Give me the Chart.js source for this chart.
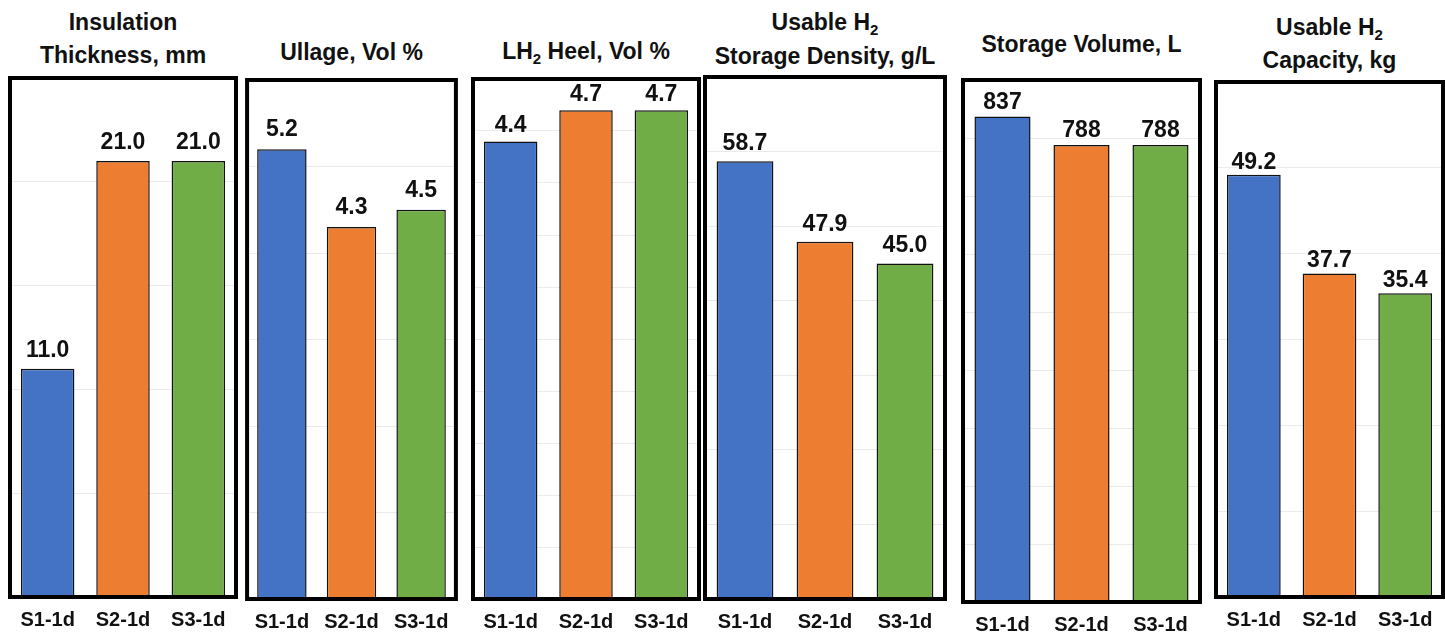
<!DOCTYPE html>
<html>
<head>
<meta charset="utf-8">
<script src="https://cdn.jsdelivr.net/npm/chart.js@4"></script>
<style>
  html, body { margin: 0; padding: 0; background: #fff; }
  body { width: 1445px; height: 632px; position: relative; overflow: hidden; font-family: "Liberation Sans", Arial, sans-serif; }
  .title { position: absolute; text-align: center; font-weight: bold; font-size: 23px; line-height: 26px; color: #111; white-space: nowrap; }
  .title sub { font-size: 15px; line-height: 0; vertical-align: -5px; }
  canvas { position: absolute; }
</style>
</head>
<body>
<script>
// scenarios on the x axis
const scenarios = ['S1-1d', 'S2-1d', 'S3-1d'];

// one value per scenario for each panel
const insulationMm = [11.0, 21.0, 21.0];
const ullagePct = [5.2, 4.3, 4.5];
const heelPct = [4.4, 4.7, 4.7];
const densityGL = [58.7, 47.9, 45.0];
const volumeL = [837, 788, 788];
const capacityKg = [49.2, 37.7, 35.4];

// y axis range and gridline step per panel
const axisMax = [25, 6, 5, 70, 900, 60];
const axisStep = [5, 1, 0.5, 10, 100, 10];
const decimals = [1, 1, 1, 1, 0, 1];

const barColors = ['#4472C4', '#ED7D31', '#70AD47'];

const titles = [
  ['Insulation', 'Thickness, mm'],
  ['Ullage, Vol %'],
  ['LH<sub>2</sub> Heel, Vol %'],
  ['Usable H<sub>2</sub>', 'Storage Density, g/L'],
  ['Storage Volume, L'],
  ['Usable H<sub>2</sub>', 'Capacity, kg']
];
const series = [insulationMm, ullagePct, heelPct, densityGL, volumeL, capacityKg];

// panel frames: left, top, right, bottom
const frames = [
  [10, 78, 236, 597],
  [247, 80, 456, 599],
  [473, 79, 699, 599],
  [705, 77, 945, 599],
  [963, 80, 1200, 602],
  [1216, 82, 1443, 597]
];
// vertical centre of each title line
const titleY = [[22, 55], [52], [51], [22, 56], [44], [27, 60]];
// gap between value label baseline and bar top
const labelGap = [12, 13, 9, 11, 8, 6];

const frameBox = {
  id: 'frameBox',
  afterDraw(chart) {
    const a = chart.chartArea;
    const ctx = chart.ctx;
    ctx.save();
    ctx.strokeStyle = '#000';
    ctx.lineWidth = 4;
    ctx.strokeRect(a.left, a.top, a.right - a.left, a.bottom - a.top);
    ctx.restore();
  }
};

const valueLabels = {
  id: 'valueLabels',
  afterDatasetsDraw(chart, args, opts) {
    const ctx = chart.ctx;
    const ds = chart.data.datasets[0];
    ctx.save();
    ctx.font = 'bold 23px "Liberation Sans", Arial, sans-serif';
    ctx.fillStyle = '#111';
    ctx.textAlign = 'center';
    ctx.textBaseline = 'alphabetic';
    chart.getDatasetMeta(0).data.forEach((bar, i) => {
      ctx.fillText(ds.data[i].toFixed(opts.digits), bar.x, bar.y - opts.gap);
    });
    ctx.restore();
  }
};

series.forEach((values, p) => {
  const [x0, y0, x1, y1] = frames[p];

  titles[p].forEach((line, k) => {
    const t = document.createElement('div');
    t.className = 'title';
    t.style.left = x0 - 40 + 'px';
    t.style.width = (x1 - x0) + 80 + 'px';
    t.style.top = titleY[p][k] - 13 + 'px';
    t.innerHTML = line;
    document.body.appendChild(t);
  });

  const pad = 4;
  const canvas = document.createElement('canvas');
  canvas.width = (x1 - x0) + pad * 2;
  canvas.height = 632 - (y0 - pad);
  canvas.style.left = x0 - pad + 'px';
  canvas.style.top = y0 - pad + 'px';
  document.body.appendChild(canvas);

  new Chart(canvas, {
    type: 'bar',
    data: {
      labels: scenarios,
      datasets: [{
        data: values,
        backgroundColor: barColors,
        borderColor: '#111',
        borderWidth: 1.5,
        categoryPercentage: 1,
        barPercentage: 0.71
      }]
    },
    options: {
      responsive: false,
      animation: false,
      layout: { padding: { left: pad, right: pad, top: pad, bottom: 0 } },
      plugins: {
        legend: { display: false },
        tooltip: { enabled: false },
        valueLabels: { digits: decimals[p], gap: labelGap[p] }
      },
      scales: {
        y: {
          min: 0,
          max: axisMax[p],
          ticks: { display: false, stepSize: axisStep[p] },
          border: { display: false },
          grid: { color: '#ebebeb', lineWidth: 1, drawTicks: false }
        },
        x: {
          grid: { display: false, drawTicks: false },
          border: { display: false },
          ticks: {
            color: '#111',
            padding: 11,
            font: { family: '"Liberation Sans", Arial, sans-serif', size: 20, weight: 'bold' }
          },
          afterFit(axis) { axis.height = 632 - y1; }
        }
      }
    },
    plugins: [valueLabels, frameBox]
  });
});
</script>
</body>
</html>
